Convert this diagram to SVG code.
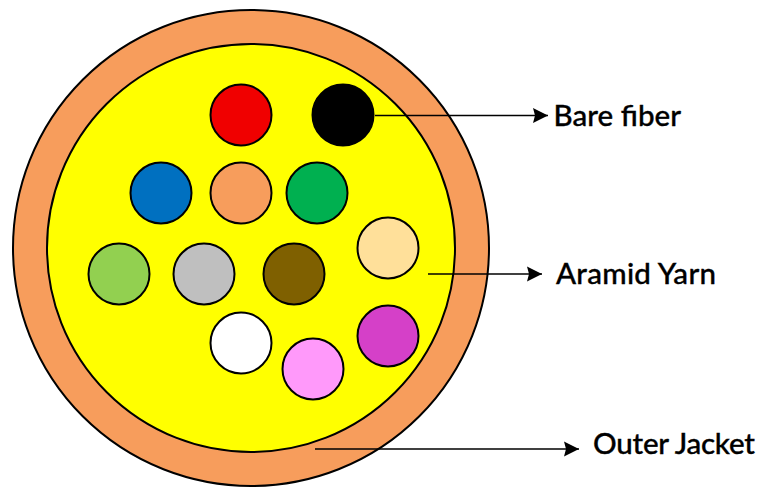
<svg xmlns="http://www.w3.org/2000/svg" width="761" height="487" viewBox="0 0 761 487">
<style>
.o{stroke:#000;stroke-width:2}
.f{stroke:#000;stroke-width:2}
.c{stroke:#000;stroke-width:1.5;fill:none;marker-end:url(#a)}
text{font-family:Lato,"Open Sans",sans-serif;font-size:29.5px;font-weight:500;fill:#000;stroke:#000;stroke-width:.35}
</style>
<defs><marker id="a" markerUnits="userSpaceOnUse" markerWidth="16" markerHeight="16" refX="15" refY="8" orient="auto"><path d="M0 .5L15 8L0 15.5L2 8Z" fill="#000"/></marker></defs>
<rect width="761" height="487" fill="#fff"/>
<g id="outer-jacket"><circle class="o" cx="251" cy="248" r="238" fill="#f79d5c"/></g>
<g id="aramid-yarn"><circle class="o" cx="251" cy="248" r="204" fill="#ff0"/></g>
<g id="fiber-red"><circle class="f" cx="241" cy="115" r="30.5" fill="#f00000"/></g>
<g id="fiber-black"><circle class="f" cx="343" cy="115" r="30.5" fill="#000"/></g>
<g id="fiber-blue"><circle class="f" cx="161" cy="193" r="30.5" fill="#0070c0"/></g>
<g id="fiber-orange"><circle class="f" cx="241" cy="193" r="30.5" fill="#f79d5c"/></g>
<g id="fiber-green"><circle class="f" cx="317" cy="193" r="30.5" fill="#00b050"/></g>
<g id="fiber-cream"><circle class="f" cx="388" cy="248" r="30.5" fill="#ffe09a"/></g>
<g id="fiber-lime"><circle class="f" cx="119" cy="274" r="30.5" fill="#92d050"/></g>
<g id="fiber-grey"><circle class="f" cx="204" cy="274" r="30.5" fill="#bfbfbf"/></g>
<g id="fiber-brown"><circle class="f" cx="294" cy="274" r="30.5" fill="#7f6000"/></g>
<g id="fiber-magenta"><circle class="f" cx="388" cy="336" r="30.5" fill="#d540c8"/></g>
<g id="fiber-white"><circle class="f" cx="241" cy="343" r="30.5" fill="#fff"/></g>
<g id="fiber-pink"><circle class="f" cx="313" cy="369" r="30.5" fill="#ff99fa"/></g>
<g id="connectors">
<path class="c" d="M375 115.500H548"/>
<path class="c" d="M428 274H542"/>
<path class="c" d="M315 449H579"/>
</g>
<g id="label-bare-fiber"><text x="553.500" y="126" textLength="127.500">Bare fiber</text></g>
<g id="label-aramid-yarn"><text x="556" y="284" textLength="160">Aramid Yarn</text></g>
<g id="label-outer-jacket"><text x="593" y="454" textLength="162">Outer Jacket</text></g>
</svg>
